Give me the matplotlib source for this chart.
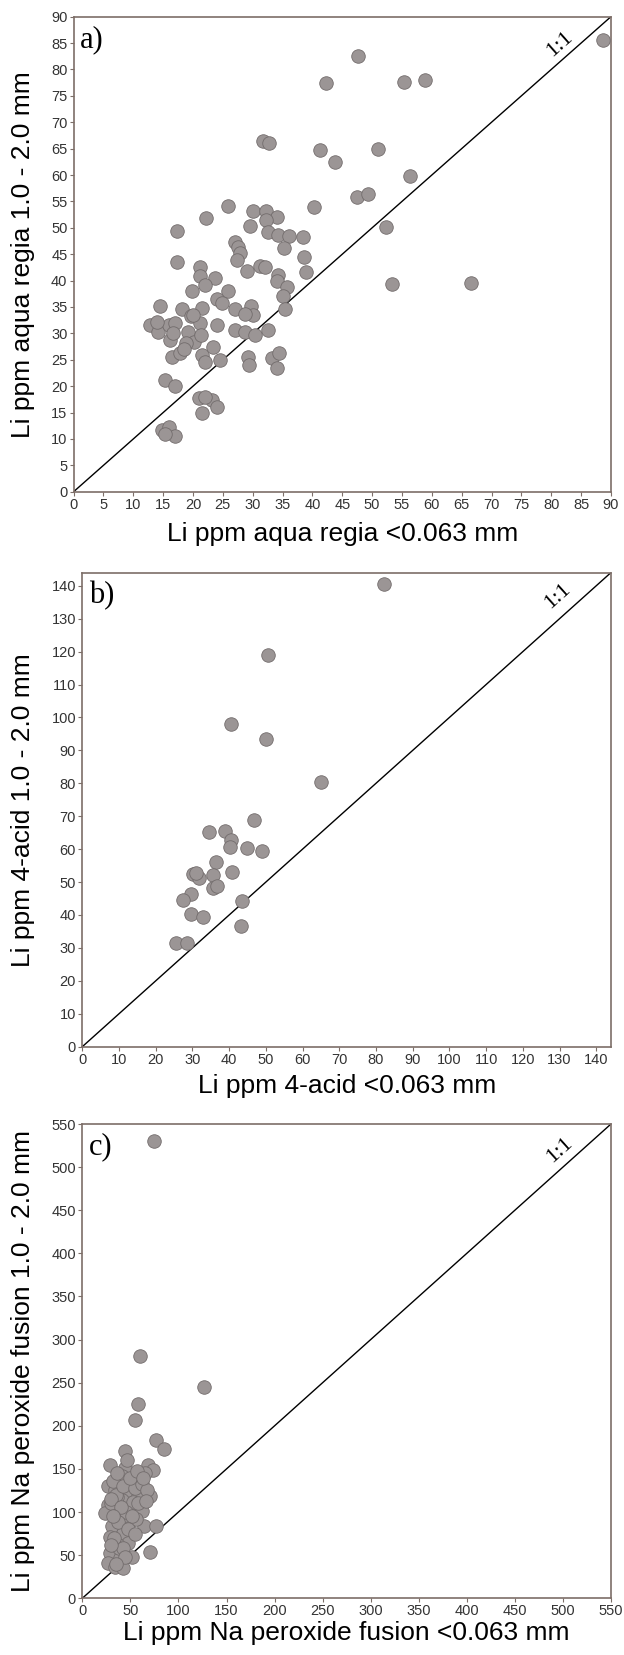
import matplotlib.pyplot as plt
import numpy as np

# panel a: aqua regia
a_x = [88.7, 47.7, 42.3, 55.3, 58.9, 31.7, 32.7, 41.3, 43.8, 51.0, 56.3, 47.5, 49.3, 52.3, 53.3, 66.5,
       25.8, 40.3, 22.1, 30.1, 32.3, 34.0, 32.3, 29.5, 17.3, 32.5, 34.3, 36.0, 38.5, 27.0, 27.6, 27.9,
       27.3, 35.3, 38.6, 17.3, 29.0, 31.2, 32.1, 38.9, 34.2, 34.0, 35.7, 35.1, 35.4, 21.2, 21.2, 23.7,
       22.0, 19.9, 25.8, 24.0, 24.8, 14.5, 18.1, 21.5, 19.6, 27.0, 29.7, 30.1, 28.7,
       12.8, 14.2, 15.9, 17.0, 16.2, 19.2, 20.1, 21.2, 21.3, 18.9, 16.4, 17.8, 21.5, 22.0, 23.4, 24.5,
       24.0, 27.0, 28.7, 30.4, 32.5, 29.2, 29.3, 33.2, 34.4, 34.0, 15.3, 16.9, 21.0, 23.1, 24.1, 21.5,
       22.0, 14.8, 15.9, 16.9, 15.3, 14.0, 16.6, 20.0, 18.5]
a_y = [85.6, 82.5, 77.4, 77.7, 78.0, 66.5, 66.0, 64.7, 62.4, 65.0, 59.9, 55.8, 56.5, 50.1, 39.3, 39.5,
       54.2, 53.9, 51.9, 53.2, 53.2, 52.1, 51.5, 50.4, 49.4, 49.3, 48.6, 48.5, 48.3, 47.4, 46.4, 45.2,
       43.9, 46.1, 44.5, 43.6, 41.8, 42.8, 42.5, 41.6, 41.1, 39.9, 38.7, 37.1, 34.7, 42.5, 40.9, 40.4,
       39.2, 38.1, 38.0, 36.6, 35.7, 35.2, 34.7, 34.9, 33.3, 34.6, 35.1, 33.5, 33.7,
       31.6, 30.3, 31.6, 31.9, 28.7, 30.3, 28.4, 31.9, 29.7, 28.1, 25.6, 26.2, 25.9, 24.6, 27.5, 25.0,
       31.6, 30.6, 30.3, 29.7, 30.6, 25.6, 24.0, 25.3, 26.3, 23.4, 21.2, 20.1, 17.7, 17.4, 16.0, 15.0,
       18.0, 11.7, 12.3, 10.6, 11.0, 32.2, 30.0, 33.4, 27.0]

# panel b: 4-acid
b_x = [82.3, 50.7, 40.4, 49.9, 65.0, 46.8, 34.6, 38.9, 40.5, 40.2, 44.8, 49.0, 36.4, 30.1, 31.9,
       35.5, 40.9, 35.5, 36.8, 29.6, 27.3, 43.4, 29.6, 32.8, 43.2, 25.4, 28.4, 31.0]
b_y = [140.5, 119.1, 98.0, 93.4, 80.3, 68.9, 65.3, 65.6, 62.8, 60.7, 60.2, 59.4, 56.1, 52.3, 51.2,
       52.2, 53.1, 48.2, 48.8, 46.4, 44.4, 44.1, 40.3, 39.3, 36.7, 31.4, 31.4, 52.6]

# panel c: Na peroxide fusion
c_x = [74.5, 60.1, 126.3, 58.2, 54.8, 76.6, 85.3, 44.3, 28.7, 68.6, 73.8, 44.3, 65.2, 40.9, 49.5,
       27.0, 33.9, 47.8, 61.7, 70.4, 58.2, 40.9, 27.0, 51.3, 33.9, 23.5, 61.7, 39.2, 49.5, 64.5,
       76.6, 30.5, 42.6, 28.7, 47.8, 37.4, 70.4, 28.7, 51.3, 39.2, 27.0, 33.9, 42.6, 32.2, 53.0,
       36.0, 45.0, 30.0, 56.0, 38.0,
       35.0, 42.0, 55.0, 62.0, 67.0, 45.0, 52.0, 58.0, 30.0, 37.0, 48.0, 55.0, 33.0, 42.0, 30.0,
       50.0, 57.0, 63.0, 36.0, 46.0, 40.0, 66.0, 32.0, 44.0, 35.0]
c_y = [530.5, 281.0, 245.0, 224.8, 207.3, 184.0, 173.0, 170.5, 155.0, 155.0, 149.0, 151.5, 145.7,
       141.4, 135.6, 129.8, 126.0, 126.0, 126.0, 118.1, 118.1, 114.3, 108.5, 106.5, 102.7, 99.0,
       101.0, 94.9, 89.1, 83.3, 83.3, 83.3, 75.6, 71.6, 64.0, 62.0, 54.2, 52.3, 48.4, 46.5, 40.7,
       36.7, 34.9, 135.6, 112.0, 118.0, 96.0, 110.0, 92.0, 58.0,
       120.0, 130.0, 128.0, 133.0, 126.0, 100.0, 95.0, 110.0, 115.0, 88.0, 80.0, 75.0, 70.0, 58.0,
       62.0, 140.0, 148.0, 140.0, 145.0, 160.0, 106.0, 113.0, 95.0, 48.0, 40.0]

panels = [
    dict(x=a_x, y=a_y, lim=90, step=5, letter="a)",
         xlabel="Li ppm aqua regia <0.063 mm", ylabel="Li ppm aqua regia 1.0 - 2.0 mm",
         rect=[0.118, 0.7029, 0.861, 0.287], xlab_y=-0.089, ylab_x=-0.094, one=(81.5, 84.8)),
    dict(x=b_x, y=b_y, lim=144, step=10, letter="b)",
         xlabel="Li ppm 4-acid <0.063 mm", ylabel="Li ppm 4-acid 1.0 - 2.0 mm",
         rect=[0.132, 0.3676, 0.847, 0.2864], xlab_y=-0.084, ylab_x=-0.1125, one=(129.4, 136.7)),
    dict(x=c_x, y=c_y, lim=550, step=50, letter="c)",
         xlabel="Li ppm Na peroxide fusion <0.063 mm", ylabel="Li ppm Na peroxide fusion 1.0 - 2.0 mm",
         rect=[0.132, 0.0343, 0.847, 0.2865], xlab_y=-0.074, ylab_x=-0.1125, one=(497, 520)),
]

SPINE = "#7d6e68"
fig = plt.figure(figsize=(6.24, 16.55), dpi=100)

for p in panels:
    ax = fig.add_axes(p["rect"])
    lim = p["lim"]
    ax.plot([0, lim], [0, lim], color="black", linewidth=1.0, zorder=2)
    ax.scatter(p["x"], p["y"], s=95, facecolor="#9b9595", edgecolor="#726c6c",
               linewidth=0.6, zorder=3, clip_on=False)
    ax.set_xlim(0, lim)
    ax.set_ylim(0, lim)
    ticks = np.arange(0, lim + 0.1, p["step"])
    ax.set_xticks(ticks)
    ax.set_yticks(ticks)
    for s in ax.spines.values():
        s.set_color(SPINE)
        s.set_linewidth(1.2)
    ax.tick_params(direction="out", length=3, width=0.8, color=SPINE, labelcolor="#333333",
                   labelsize=10.5, pad=1.5)
    for lab in ax.get_xticklabels() + ax.get_yticklabels():
        lab.set_family(["Liberation Sans", "DejaVu Sans"])
    xl = ax.set_xlabel(p["xlabel"], fontsize=19, family="Liberation Sans")
    yl = ax.set_ylabel(p["ylabel"], fontsize=19, family="Liberation Sans")
    xl.set_va("center")
    yl.set_va("center")
    ax.xaxis.set_label_coords(0.5, p["xlab_y"])
    ax.yaxis.set_label_coords(p["ylab_x"], 0.5)
    ax.text(0.012, 0.952, p["letter"], transform=ax.transAxes, fontsize=22,
            family="Liberation Serif", ha="left", va="center")
    # slope of the 1:1 line on screen
    w, h = p["rect"][2] * 624, p["rect"][3] * 1655
    ang = np.degrees(np.arctan2(h, w))
    ax.text(p["one"][0], p["one"][1], "1:1", fontsize=16, family="Liberation Serif",
            rotation=ang, rotation_mode="anchor", ha="center", va="center")

fig.savefig("out.png", dpi=100)
